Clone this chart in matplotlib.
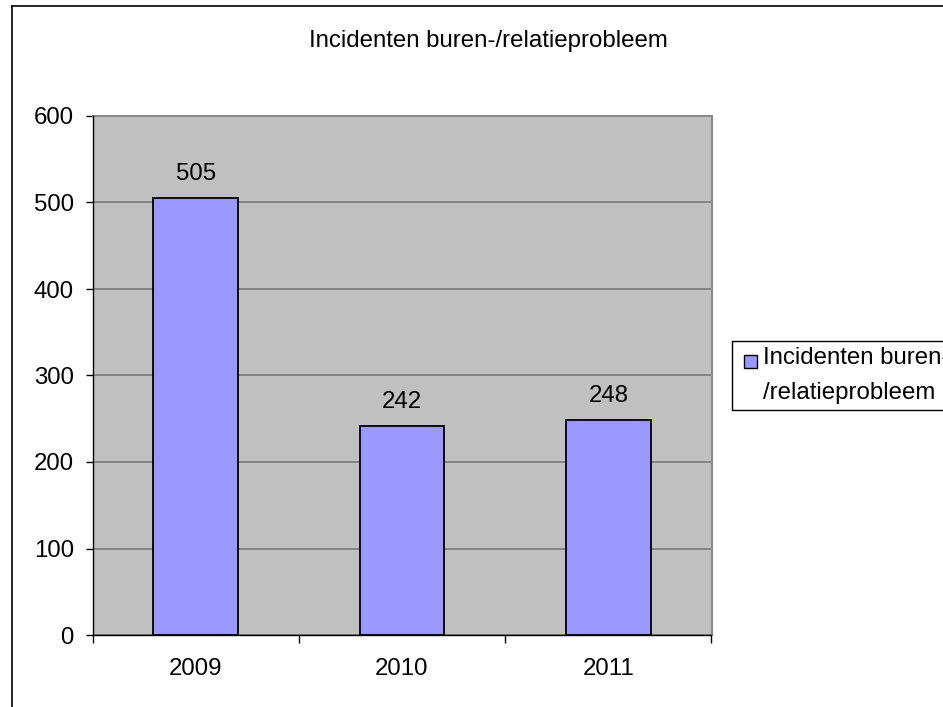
import matplotlib
matplotlib.use("Agg")
import matplotlib.pyplot as plt
from matplotlib.lines import Line2D
from matplotlib.patches import Rectangle
from matplotlib.legend_handler import HandlerPatch

plt.rcParams['font.family'] = ['Liberation Sans', 'DejaVu Sans']

categories = ['2009', '2010', '2011']
values = [505, 242, 248]
series_name = 'Incidenten buren-\n/relatieprobleem'
title = 'Incidenten buren-/relatieprobleem'
yticks = [0, 100, 200, 300, 400, 500, 600]

W, H = 943, 707
fig = plt.figure(figsize=(W / 100, H / 100), dpi=100)
fs = 17.3
PX = 0.72  # points per pixel at dpi 100
bar_color = '#9999FF'

ax = fig.add_axes([92.5 / W, 1 - 635 / H, (711.5 - 92.5) / W, (635 - 116) / H])
ax.set_facecolor('#C0C0C0')
x = list(range(len(categories)))
bars = ax.bar(x, values, width=0.41, color=bar_color, edgecolor='black',
              linewidth=1.3, zorder=3, label=series_name)
ax.set_xlim(-0.5, len(categories) - 0.5)
ax.set_ylim(0, 600)
ax.set_yticks(yticks)
ax.set_yticklabels([str(t) for t in yticks], fontsize=fs)
ax.set_xticks(x)
ax.set_xticklabels(categories, fontsize=fs)
ax.set_xticks([i - 0.5 for i in range(len(categories) + 1)], minor=True)
ax.tick_params(axis='x', which='major', length=0, pad=16.5)
ax.tick_params(axis='x', which='minor', length=5.5, width=1, color='black', direction='out')
ax.tick_params(axis='y', which='major', length=5, width=1, color='black', pad=8.5, direction='out')
ax.yaxis.grid(True, color='#7a7a7a', linewidth=1.2, zorder=1)
ax.set_axisbelow(True)
for s in ['top', 'right']:
    ax.spines[s].set_color('#8a8a8a')
    ax.spines[s].set_linewidth(1.5)
for s in ['left', 'bottom']:
    ax.spines[s].set_color('black')
    ax.spines[s].set_linewidth(1.0)
    ax.spines[s].set_zorder(4)

for xi, v in zip(x, values):
    ax.annotate(str(v), (xi, v), xytext=(0, 13), textcoords='offset points',
                ha='center', va='baseline', fontsize=fs)

fig.text(488.5 / W, 1 - 47.3 / H, title, ha='center', va='baseline', fontsize=fs)


class SquareHandler(HandlerPatch):
    def create_artists(self, legend, orig_handle, xdescent, ydescent,
                       width, height, fontsize, trans):
        side = 13 * PX
        p = Rectangle((-xdescent + 5 * PX, 11.8), side, side,
                      facecolor=bar_color, edgecolor='black', linewidth=1.0)
        p.set_transform(trans)
        return [p]


fs_px = fs / PX
leg = fig.legend(handles=[bars], labels=[series_name],
                 handler_map={bars: SquareHandler()},
                 loc='upper left', bbox_to_anchor=(732 / W, 1 - 341 / H),
                 borderaxespad=0, fontsize=fs, frameon=True, fancybox=False,
                 edgecolor='black', framealpha=1,
                 handlelength=18 / fs_px, handleheight=0.7,
                 handletextpad=6.5 / fs_px, borderpad=6.5 / fs_px)
leg.get_frame().set_linewidth(1.0)
for t in leg.get_texts():
    t.set_linespacing(1.72)

# outer chart border
fig.add_artist(Line2D([11.5 / W, 11.5 / W], [0, 1 - 5.5 / H], color='black',
                      linewidth=1.2, transform=fig.transFigure))
fig.add_artist(Line2D([11.5 / W, 1.0], [1 - 5.5 / H, 1 - 5.5 / H], color='black',
                      linewidth=1.2, transform=fig.transFigure))

fig.savefig('out.png', dpi=100)
